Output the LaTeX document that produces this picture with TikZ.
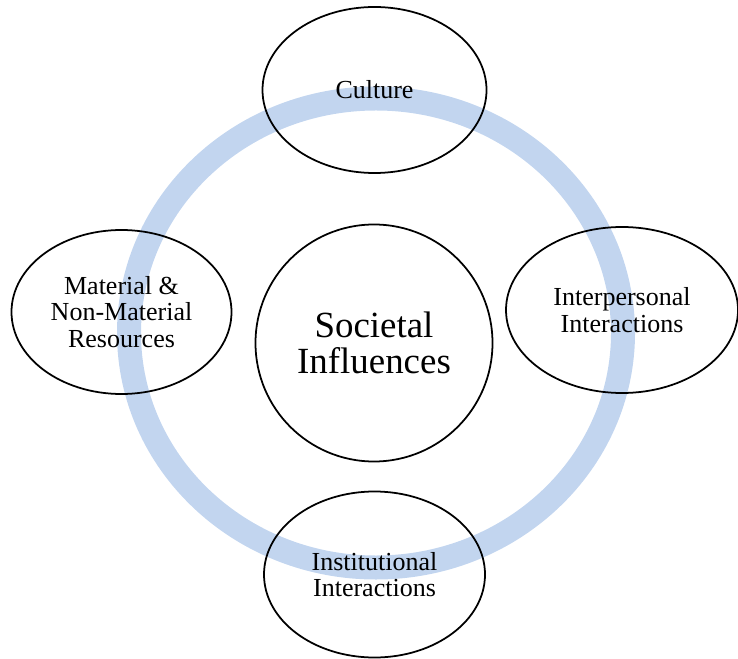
\documentclass[tikz,border=0pt]{standalone}
\usepackage{fontspec}
\setmainfont{Liberation Serif}
\usetikzlibrary{shapes.geometric}
\definecolor{ringblue}{RGB}{194,213,239}
\begin{document}
\begin{tikzpicture}[
    bubble/.style={draw=black, line width=1pt, ellipse, inner sep=0pt, align=center,
      font=\fontsize{14.8}{15.2}\selectfont}]
  \useasboundingbox (0,0) rectangle (14.76,13.16);
  % ring behind everything
  \draw[draw=ringblue, line width=0.48cm] (7.52,6.50) ellipse (4.94 and 4.69);
  \node[draw=black, line width=1pt, circle, minimum size=4.74cm, inner sep=0pt, align=center,
    font=\fontsize{21}{20.5}\selectfont] (society) at (7.48,6.30) {Societal\\Influences};
  \node[bubble, minimum width=4.48cm, minimum height=3.32cm] (culture) at (7.49,11.36) {Culture};
  \node[bubble, minimum width=4.64cm, minimum height=3.32cm] (interpersonal) at (12.44,6.96) {Interpersonal\\Interactions};
  \node[bubble, minimum width=4.40cm, minimum height=3.28cm] (resources) at (2.43,6.92) {Material \&\\Non-Material\\Resources};
  \node[bubble, minimum width=4.42cm, minimum height=3.32cm] (institutional) at (7.49,1.67) {Institutional\\Interactions};
\end{tikzpicture}
\end{document}
